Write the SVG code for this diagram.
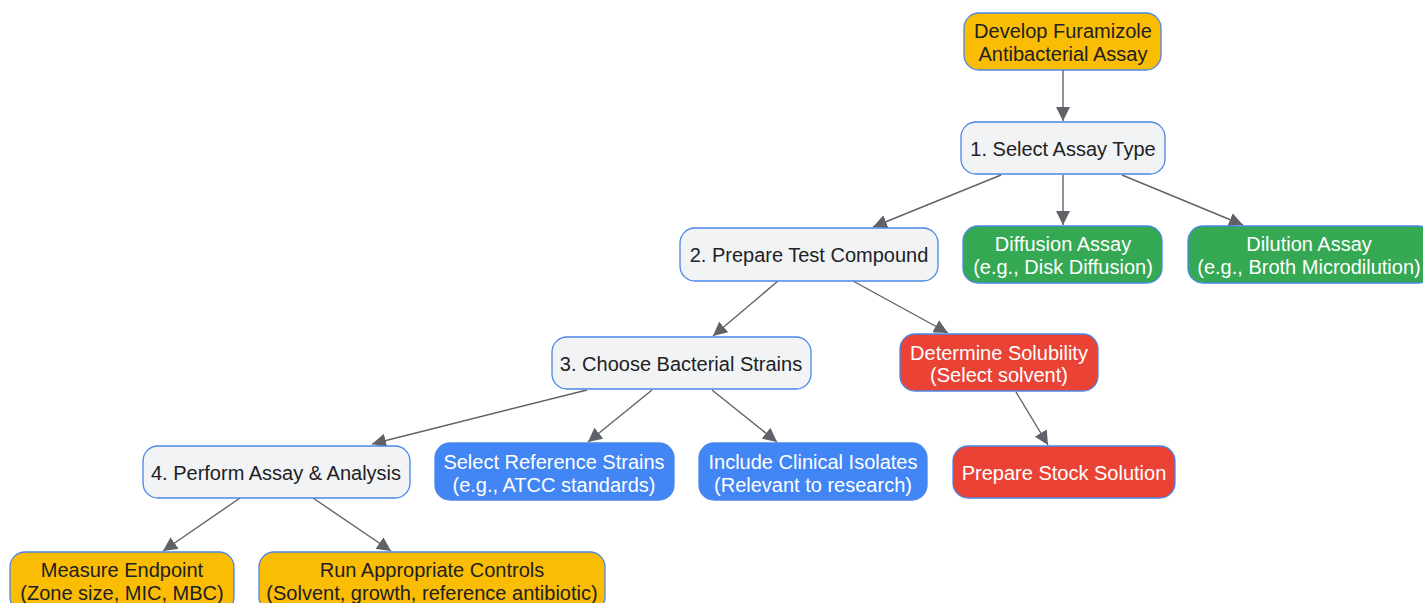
<svg xmlns="http://www.w3.org/2000/svg" width="1423" height="603" viewBox="0 0 1423 603">
<style>
.n rect{stroke:#4a86e8;stroke-width:1.3;}
.grey rect{fill:#f1f3f4;}
.yel rect{fill:#fbbc04;}
.grn rect{fill:#34a853;}
.red rect{fill:#ea4335;}
.blu rect{fill:#4285f4;}
text{font-family:"Liberation Sans",Arial,sans-serif;font-size:20px;text-anchor:middle;dominant-baseline:central;}
.grey text,.yel text{fill:#202124;}
.grn text,.red text,.blu text{fill:#ffffff;}
.edges line{stroke:#5f6368;stroke-width:1.4;marker-end:url(#ah);}
</style>
<defs>
<marker id="ah" viewBox="0 0 10 10" refX="10" refY="5" markerWidth="14" markerHeight="14" markerUnits="userSpaceOnUse" orient="auto">
<path d="M0,0 L10,5 L0,10 z" fill="#5f6368"/>
</marker>
</defs>
<rect width="1423" height="603" fill="#ffffff"/>
<g class="edges">
<line x1="1063" y1="70" x2="1063" y2="121"/>
<line x1="1001" y1="175" x2="873" y2="227"/>
<line x1="1063" y1="175" x2="1063" y2="225"/>
<line x1="1122" y1="175" x2="1243" y2="225"/>
<line x1="778" y1="281" x2="713" y2="336"/>
<line x1="853" y1="281" x2="948" y2="333"/>
<line x1="587" y1="390" x2="372" y2="444"/>
<line x1="652" y1="390" x2="588" y2="442"/>
<line x1="712" y1="390" x2="777" y2="442"/>
<line x1="1016" y1="392" x2="1048" y2="445"/>
<line x1="240" y1="498" x2="163" y2="551"/>
<line x1="313" y1="498" x2="391" y2="551"/>
</g>
<g id="develop" class="n yel"><rect x="964" y="13" width="197" height="57" rx="15"/><text x="1063" y="31">Develop Furamizole</text><text x="1063" y="54">Antibacterial Assay</text></g>
<g id="step1" class="n grey"><rect x="961" y="122" width="204" height="52" rx="15"/><text x="1063" y="149">1. Select Assay Type</text></g>
<g id="diffusion" class="n grn"><rect x="963" y="226" width="199" height="57" rx="15"/><text x="1063" y="244">Diffusion Assay</text><text x="1063" y="267">(e.g., Disk Diffusion)</text></g>
<g id="dilution" class="n grn"><rect x="1188" y="226" width="245" height="57" rx="15"/><text x="1309" y="244">Dilution Assay</text><text x="1309" y="267">(e.g., Broth Microdilution)</text></g>
<g id="step2" class="n grey"><rect x="680" y="228" width="258" height="53" rx="15"/><text x="809" y="255">2. Prepare Test Compound</text></g>
<g id="solubility" class="n red"><rect x="900" y="334" width="198" height="57" rx="15"/><text x="999" y="353">Determine Solubility</text><text x="999" y="375">(Select solvent)</text></g>
<g id="step3" class="n grey"><rect x="552" y="337" width="259" height="52" rx="15"/><text x="681" y="364">3. Choose Bacterial Strains</text></g>
<g id="step4" class="n grey"><rect x="143" y="446" width="267" height="52" rx="15"/><text x="276" y="473">4. Perform Assay &amp; Analysis</text></g>
<g id="reference" class="n blu"><rect x="435" y="443" width="239" height="57" rx="15"/><text x="554" y="462">Select Reference Strains</text><text x="554" y="485">(e.g., ATCC standards)</text></g>
<g id="clinical" class="n blu"><rect x="699" y="443" width="228" height="57" rx="15"/><text x="813" y="462">Include Clinical Isolates</text><text x="813" y="485">(Relevant to research)</text></g>
<g id="stock" class="n red"><rect x="953" y="446" width="222" height="52" rx="15"/><text x="1064" y="473">Prepare Stock Solution</text></g>
<g id="measure" class="n yel"><rect x="10" y="552" width="224" height="60" rx="15"/><text x="122" y="570">Measure Endpoint</text><text x="122" y="593">(Zone size, MIC, MBC)</text></g>
<g id="controls" class="n yel"><rect x="259" y="552" width="346" height="60" rx="15"/><text x="432" y="570">Run Appropriate Controls</text><text x="432" y="593">(Solvent, growth, reference antibiotic)</text></g>
</svg>
